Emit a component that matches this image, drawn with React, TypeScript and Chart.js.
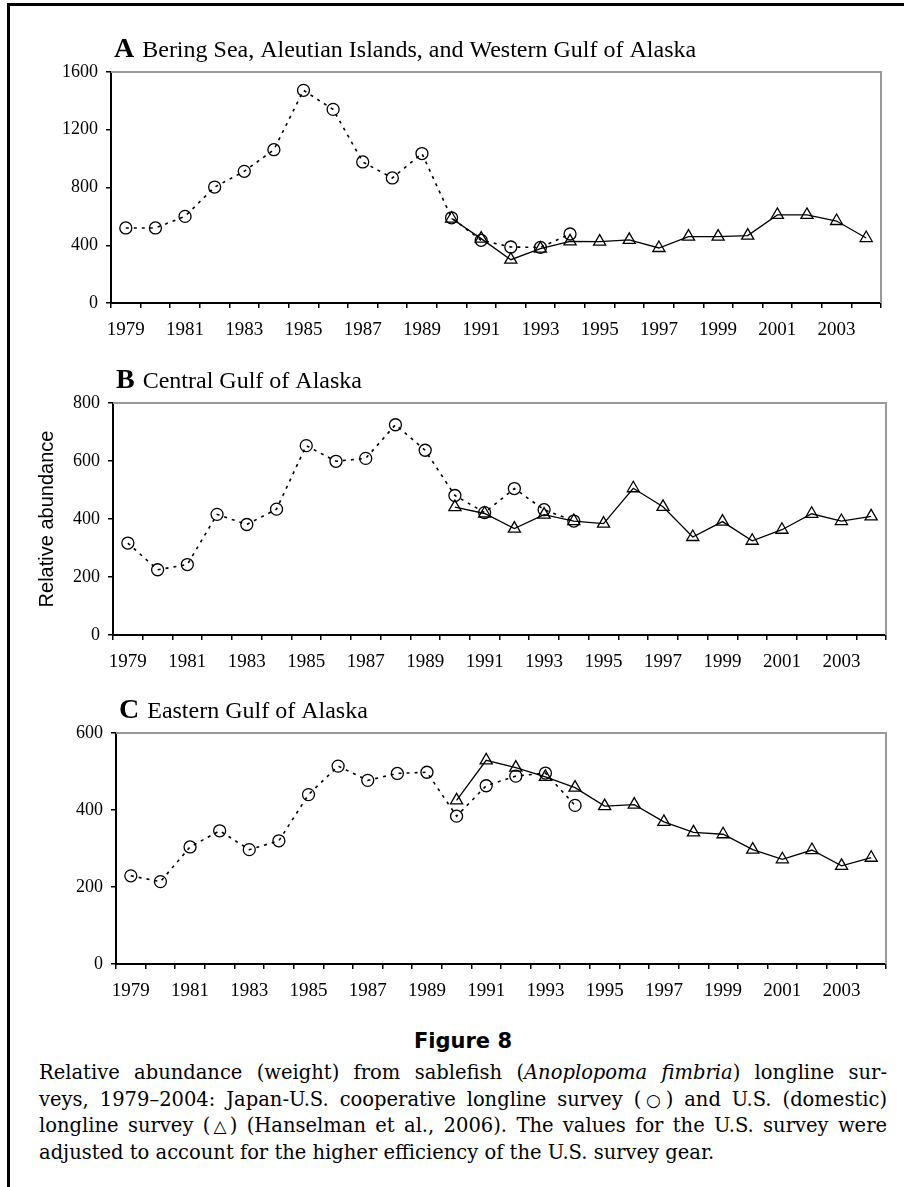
import React, { useEffect, useRef } from 'react';
import { Chart, registerables } from 'chart.js';

Chart.register(...registerables);
Chart.defaults.font.family = '"Liberation Serif", "Times New Roman", serif';
Chart.defaults.color = '#000';

// ---------- data ----------
const years = ['1979', '1980', '1981', '1982', '1983', '1984', '1985', '1986', '1987', '1988', '1989', '1990', '1991',
  '1992', '1993', '1994', '1995', '1996', '1997', '1998', '1999', '2000', '2001', '2002', '2003', '2004'];
const xTickLabels = ['1979', '1981', '1983', '1985', '1987', '1989', '1991', '1993', '1995', '1997', '1999', '2001', '2003'];

const japanYears = ['1979', '1980', '1981', '1982', '1983', '1984', '1985', '1986', '1987', '1988', '1989', '1990',
  '1991', '1992', '1993', '1994'];
const usYears = ['1990', '1991', '1992', '1993', '1994', '1995', '1996', '1997', '1998', '1999', '2000', '2001',
  '2002', '2003', '2004'];

// Panel A: Bering Sea, Aleutian Islands, and Western Gulf of Alaska
const aJapan = [520, 520, 600, 803, 912, 1062, 1473, 1341, 977, 866, 1035, 590, 434, 388, 385, 478];
const aUS = [585, 446, 300, 377, 427, 425, 437, 381, 460, 460, 467, 610, 610, 568, 450];
const aYTicks = [0, 400, 800, 1200, 1600];

// Panel B: Central Gulf of Alaska
const bJapan = [317, 225, 243, 416, 381, 434, 653, 599, 609, 725, 637, 481, 422, 505, 432, 393];
const bUS = [441, 419, 367, 415, 393, 384, 506, 442, 338, 391, 325, 363, 418, 393, 409];
const bYTicks = [0, 200, 400, 600, 800];

// Panel C: Eastern Gulf of Alaska
const cJapan = [229, 214, 304, 346, 297, 320, 440, 514, 477, 495, 498, 384, 463, 488, 496, 412];
const cUS = [425, 529, 510, 486, 458, 410, 414, 369, 342, 337, 297, 272, 296, 255, 276];
const cYTicks = [0, 200, 400, 600];

const yAxisTitle = 'Relative abundance';

// ---------- chart panel ----------
type PanelProps = {
  top: number;
  height: number;
  letter: string;
  title: string;
  japan: number[];
  us: number[];
  yTicks: number[];
  plotLeft: number;
  plotTop: number;
  plotBottom: number;
  plotRight: number;
  showYTitle?: boolean;
};

function makeTitlePlugin(letter: string, title: string) {
  return {
    id: 'panelTitle',
    afterDraw(chart: any) {
      const { ctx, chartArea } = chart;
      ctx.save();
      ctx.strokeStyle = '#9a9a9a';
      ctx.lineWidth = 2;
      ctx.beginPath();
      ctx.moveTo(chartArea.left, chartArea.top);
      ctx.lineTo(chartArea.right, chartArea.top);
      ctx.lineTo(chartArea.right, chartArea.bottom);
      ctx.stroke();

      ctx.fillStyle = '#000';
      ctx.textBaseline = 'alphabetic';
      ctx.textAlign = 'left';
      const x0 = chartArea.left + 3;
      const y0 = chartArea.top - 15;
      ctx.font = 'bold 28px "Liberation Serif"';
      ctx.fillText(letter, x0, y0);
      const w = ctx.measureText(letter).width;
      ctx.font = '24px "Liberation Serif"';
      ctx.fillText(title, x0 + w + 8, y0);
      ctx.restore();
    },
  };
}

function Panel(p: PanelProps) {
  const ref = useRef<HTMLCanvasElement>(null);
  useEffect(() => {
    const yMin = p.yTicks[0];
    const yMax = p.yTicks[p.yTicks.length - 1];
    const step = p.yTicks[1] - p.yTicks[0];
    const chart = new Chart(ref.current as HTMLCanvasElement, {
      type: 'line',
      data: {
        labels: years,
        datasets: [
          {
            label: 'Japan-U.S. cooperative longline survey',
            data: japanYears.map((x, i) => ({ x, y: p.japan[i] })) as any,
            borderColor: '#000',
            borderWidth: 1.6,
            borderDash: [3, 5],
            pointStyle: 'circle',
            pointRadius: 6,
            pointBorderWidth: 1.3,
            pointBorderColor: '#000',
            pointBackgroundColor: 'rgba(0,0,0,0)',
            fill: false,
            tension: 0,
          },
          {
            label: 'U.S. (domestic) longline survey',
            data: usYears.map((x, i) => ({ x, y: p.us[i] })) as any,
            borderColor: '#000',
            borderWidth: 1.3,
            pointStyle: 'triangle',
            pointRadius: 7,
            pointBorderWidth: 1.3,
            pointBorderColor: '#000',
            pointBackgroundColor: 'rgba(0,0,0,0)',
            fill: false,
            tension: 0,
          },
        ],
      },
      options: {
        responsive: false,
        animation: false,
        events: [],
        layout: { padding: { left: 0, top: p.plotTop, right: 904 - p.plotRight, bottom: 0 } },
        plugins: { legend: { display: false }, tooltip: { enabled: false }, title: { display: false } },
        scales: {
          x: {
            type: 'category',
            offset: true,
            grid: { offset: true, drawOnChartArea: false, drawTicks: true, tickLength: 5, color: '#000', lineWidth: 1.5 },
            border: { color: '#000', width: 2 },
            ticks: {
              autoSkip: false,
              maxRotation: 0,
              minRotation: 0,
              padding: 11,
              color: '#000',
              font: { family: '"Liberation Serif"', size: 19 },
              callback: (_v: any, i: number) => (xTickLabels.includes(years[i]) ? years[i] : ''),
            },
            afterFit: (s: any) => {
              s.height = p.height - p.plotBottom;
            },
          },
          y: {
            min: yMin,
            max: yMax,
            ticks: {
              stepSize: step,
              padding: 8,
              color: '#000',
              font: { family: '"Liberation Serif"', size: 18 },
              callback: (v: any) => String(v),
            },
            grid: { drawOnChartArea: false, drawTicks: true, tickLength: 5, color: '#000', lineWidth: 1.5 },
            border: { color: '#000', width: 2 },
            title: p.showYTitle
              ? {
                  display: true,
                  text: yAxisTitle,
                  color: '#000',
                  font: { family: '"Liberation Sans"', size: 20 },
                  padding: { top: 35, bottom: 0 },
                }
              : { display: false },
            afterFit: (s: any) => {
              s.width = p.plotLeft;
            },
          },
        },
      } as any,
      plugins: [makeTitlePlugin(p.letter, p.title)],
    });
    return () => chart.destroy();
  }, []);
  return (
    <canvas
      ref={ref}
      width={904}
      height={p.height}
      style={{ position: 'absolute', left: 0, top: p.top, display: 'block' }}
    />
  );
}

export default function App() {
  const lineStyle: React.CSSProperties = { whiteSpace: 'nowrap', textAlignLast: 'justify', textAlign: 'justify' };
  const sym: React.CSSProperties = { fontFamily: '"DejaVu Sans", sans-serif', fontSize: 17 };
  return (
    <div style={{ position: 'absolute', left: 0, top: 0, width: 904, height: 1187, background: '#fff', overflow: 'hidden' }}>
      <div style={{ position: 'absolute', left: 7, top: 3, width: 897, height: 3, background: '#000' }} />
      <div style={{ position: 'absolute', left: 7, top: 3, width: 2.5, height: 1184, background: '#000' }} />

      <Panel top={0} height={350} letter="A" title="Bering Sea, Aleutian Islands, and Western Gulf of Alaska"
        japan={aJapan} us={aUS} yTicks={aYTicks} plotLeft={111} plotTop={72} plotBottom={303} plotRight={881} />
      <Panel top={350} height={330} letter="B" title="Central Gulf of Alaska"
        japan={bJapan} us={bUS} yTicks={bYTicks} plotLeft={113} plotTop={53} plotBottom={285} plotRight={886} showYTitle />
      <Panel top={680} height={330} letter="C" title="Eastern Gulf of Alaska"
        japan={cJapan} us={cUS} yTicks={cYTicks} plotLeft={116} plotTop={53} plotBottom={284} plotRight={886} />

      <div style={{ position: 'absolute', left: 363, top: 1031, width: 200, textAlign: 'center', fontFamily: '"DejaVu Sans", sans-serif', fontWeight: 'bold', fontSize: 21, lineHeight: '21px' }}>
        Figure 8
      </div>
      <div style={{ position: 'absolute', left: 39, top: 1060, width: 848, fontFamily: '"DejaVu Serif", serif', fontSize: 19.5, lineHeight: '26.7px', color: '#000' }}>
        <div style={lineStyle}>Relative abundance (weight) from sablefish (<i>Anoplopoma fimbria</i>) longline sur-</div>
        <div style={lineStyle}>veys, 1979–2004: Japan-U.S. cooperative longline survey (<span style={sym}>○</span>) and U.S. (domestic)</div>
        <div style={lineStyle}>longline survey (<span style={sym}>△</span>) (Hanselman et al., 2006). The values for the U.S. survey were</div>
        <div style={{ whiteSpace: 'nowrap' }}>adjusted to account for the higher efficiency of the U.S. survey gear.</div>
      </div>
    </div>
  );
}
